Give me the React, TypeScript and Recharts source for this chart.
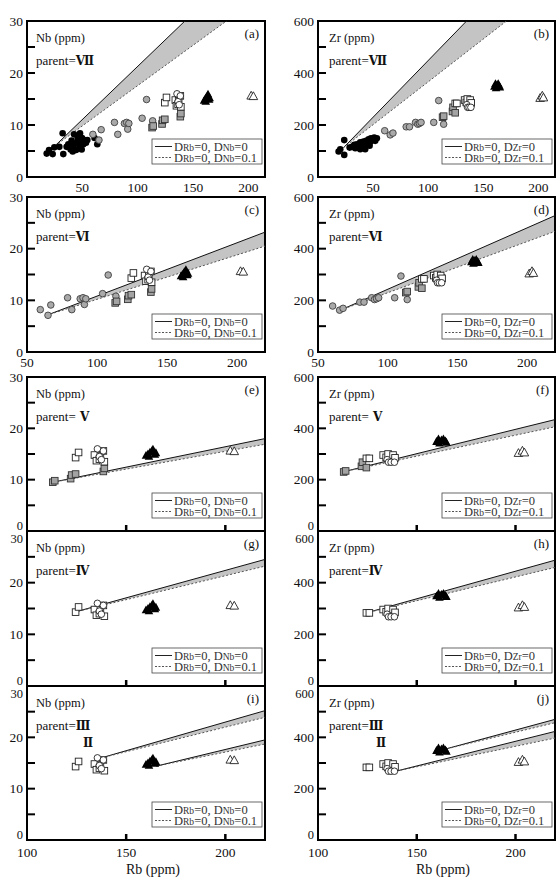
import React from 'react';
import { ComposedChart, Scatter, Line, Area, XAxis, YAxis, ReferenceArea } from 'recharts';

type Pt = [number, number];

// ---------- Nb (ppm) vs Rb (ppm) ----------
const nbBlackCircles: Pt[] = [
  [17.8, 4.5], [19.9, 5.2], [23.2, 4.4], [24.7, 5.7], [29.2, 5.8], [32.2, 8.4], [32.8, 4.4],
  [35.8, 5.8], [37.3, 6.3], [39.4, 5.3], [40.3, 7.0], [41.3, 4.9], [41.9, 6.0], [42.5, 8.2],
  [44.3, 5.2], [44.9, 6.6], [45.8, 7.5], [47.3, 6.0], [47.9, 8.4], [48.5, 6.8], [49.4, 5.3],
  [49.7, 7.5], [50.9, 6.3], [51.8, 7.1], [53.3, 6.6], [54.5, 7.1], [61, 7.5], [63.5, 6.3],
];
const nbGrayCircles: Pt[] = [
  [59.5, 8.2], [65, 7.1], [67, 9.1], [79, 10.5], [82, 8.2], [88, 10.3], [90, 10.5], [91, 9.2],
  [92, 10.3], [104, 11.3], [108, 14.9], [113.5, 10.8],
];
const nbGraySquares: Pt[] = [[113, 9.5], [114, 9.8], [122, 10.2], [122.5, 10.9], [124.5, 11.1], [138.5, 11.6], [139, 12.2]];
const nbOpenSquares: Pt[] = [[124.5, 14.3], [126, 15.3], [134, 14.8], [135, 13.7], [136.5, 14.0], [137, 14.7], [138.5, 15.6], [139, 13.5]];
const nbOpenCircles: Pt[] = [[135.5, 16.0], [136.5, 14.5], [138.5, 15.6], [137.5, 13.9]];
const nbBlackTriangles: Pt[] = [[160, 14.7], [161, 15.0], [161.5, 14.5], [162, 15.3], [163, 15.6], [163.5, 15.9], [164.5, 14.9], [165, 15.2]];
const nbOpenTriangles: Pt[] = [[202.5, 15.6], [204.5, 15.5]];

// ---------- Zr (ppm) vs Rb (ppm) ----------
const zrBlackCircles: Pt[] = [
  [18.7, 98], [20.2, 107], [23.8, 142], [23.8, 85], [28.7, 113], [30.8, 116], [32.9, 124], [33.8, 111],
  [35.3, 126], [36.8, 120], [38.3, 133], [38.3, 107], [39.8, 124], [41.3, 136], [41.9, 120], [42.8, 107],
  [43.7, 139], [45, 129], [45.9, 145], [46.8, 120], [47.4, 135], [48, 149], [49.8, 142], [51, 152],
  [51.9, 139], [53.4, 149],
];
const zrGrayCircles: Pt[] = [
  [60.5, 178], [65.5, 162], [68, 169], [80, 193], [83, 193], [88.5, 210], [90.5, 203], [92, 206],
  [93.5, 210], [105, 210], [109.5, 294], [114, 203],
];
const zrGraySquares: Pt[] = [[113, 230], [114, 234], [122, 252], [122.5, 268], [124.5, 247], [138, 276], [138.5, 286]];
const zrOpenSquares: Pt[] = [[124.5, 283], [126, 283], [133, 296], [134.5, 287], [135.5, 300], [138, 296], [139, 285]];
const zrOpenCircles: Pt[] = [[135, 278], [135.7, 268], [137, 268], [138.7, 268]];
const zrBlackTriangles: Pt[] = [[160, 348], [161, 358], [161.5, 342], [162.5, 354], [163.5, 358], [164.5, 350], [165, 345]];
const zrOpenTriangles: Pt[] = [[201.5, 303], [203.5, 312], [204.5, 305]];

// model lines, per row (parent VII..III):
// [Rb start, value start, Rb end, value end (D=0), value end (D=0.1)]
const nbModels: number[][][] = [
  [[25.3, 6.0, 215, 44.8, 35.4]],
  [[64, 7.1, 220, 23.2, 20.5]],
  [[113, 9.5, 220, 18.0, 16.9]],
  [[124, 14.3, 220, 24.5, 23.2]],
  [[137.5, 16.0, 220, 25.2, 23.9], [165.3, 14.4, 220, 19.5, 18.7]],
];
const zrModels: number[][][] = [
  [[23.2, 113, 215, 950, 745]],
  [[66, 162, 220, 528, 467]],
  [[113, 231, 220, 434, 406]],
  [[124.4, 283, 220, 487, 459]],
  [[163.4, 352, 220, 470, 457], [139.9, 269, 220, 423, 397]],
];

const nbTicks = [0, 5, 10, 15, 20, 25, 30];
const zrTicks = [0, 100, 200, 300, 400, 500, 600];
const rbDomains: number[][] = [[0, 215], [50, 220], [100, 220], [100, 220], [100, 220]];
const rbTicksByRow: number[][] = [[50, 100, 150, 200], [50, 100, 150, 200], [100, 150, 200], [100, 150, 200], [100, 150, 200]];
const rbLabelRows = [true, true, false, false, true];
const parents = ['Ⅶ', 'Ⅵ', ' Ⅴ', 'Ⅳ', 'Ⅲ'];
const letters = [['a', 'b'], ['c', 'd'], ['e', 'f'], ['g', 'h'], ['i', 'j']];
const rowGroups = [[0, 1, 2, 3, 4, 5, 6], [1, 2, 3, 4, 5, 6], [2, 3, 4, 5, 6], [3, 4, 5, 6], [3, 4, 5, 6]];

const nbGroups = [nbBlackCircles, nbGrayCircles, nbGraySquares, nbOpenSquares, nbOpenCircles, nbBlackTriangles, nbOpenTriangles];
const zrGroups = [zrBlackCircles, zrGrayCircles, zrGraySquares, zrOpenSquares, zrOpenCircles, zrBlackTriangles, zrOpenTriangles];

// layout (plot top / bottom per row)
const ROWS: number[][] = [[21, 177], [197, 352], [377, 531], [531, 686], [686, 840]];
const FONT = "'Liberation Serif', 'Times New Roman', Times, serif";
const NUMFONT = "'DejaVu Serif', 'Liberation Serif', serif";

const tri = (cx: number, cy: number) => `${cx},${cy - 4.6} ${cx - 4.3},${cy + 3.2} ${cx + 4.3},${cy + 3.2}`;
const shapes = [
  (p: any) => <circle cx={p.cx} cy={p.cy} r={3.3} fill="#000" />,
  (p: any) => <circle cx={p.cx} cy={p.cy} r={3.3} fill="#a9a9a9" stroke="#404040" strokeWidth={0.9} />,
  (p: any) => <rect x={p.cx - 3.3} y={p.cy - 3.3} width={6.6} height={6.6} fill="#a3a3a3" stroke="#333" strokeWidth={0.9} />,
  (p: any) => <rect x={p.cx - 3.3} y={p.cy - 3.3} width={6.6} height={6.6} fill="#fff" stroke="#222" strokeWidth={0.9} />,
  (p: any) => <circle cx={p.cx} cy={p.cy} r={3.3} fill="#fff" stroke="#222" strokeWidth={0.9} />,
  (p: any) => <polygon points={tri(p.cx, p.cy)} fill="#000" />,
  (p: any) => <polygon points={tri(p.cx, p.cy)} fill="#fff" stroke="#222" strokeWidth={0.9} />,
];

const toPts = (arr: Pt[]) => arr.map(([rb, v]) => ({ rb, v }));

function Panel({ row, col }: { row: number; col: number }) {
  const isNb = col === 0;
  const yMax = isNb ? 30 : 600;
  const yTicks = isNb ? nbTicks : zrTicks;
  const major = isNb ? 10 : 200;
  const [pt, pb] = ROWS[row];
  const yAxisW = isNb ? 27 : 38;
  const mRight = isNb ? 15 : 5;
  const xAxisH = 26;
  const h = 10 + (pb - pt) + xAxisH;
  const dom = rbDomains[row];
  const groups = isNb ? nbGroups : zrGroups;
  const models = (isNb ? nbModels : zrModels)[row];
  const showLabels = rbLabelRows[row];
  const inward = row >= 2;

  const yTick = (p: any) => {
    const v = p.payload.value;
    let dy = 4.5;
    let fs = 13.5;
    if (v === 0 && row >= 2) {
      dy = -1;
      fs = 12.5;
    }
    if (v === yMax && (row === 3 || row === 4)) {
      dy = 12;
      fs = 12.5;
    }
    return (
      <g>
        {v > 0 && v < yMax ? <line x1={p.x} x2={p.x + 8} y1={p.y} y2={p.y} stroke="#000" strokeWidth={2} /> : null}
        {v % major === 0 ? (
          <text x={p.x - 4} y={p.y + dy} textAnchor="end" fontSize={fs} fontFamily={FONT} fill="#111">
            {v}
          </text>
        ) : null}
      </g>
    );
  };
  const xTick = (p: any) => {
    const v = p.payload.value;
    return (
      <g>
        {inward && v > dom[0] && v < dom[1] ? (
          <line x1={p.x} x2={p.x} y1={p.y} y2={p.y - 6} stroke="#000" strokeWidth={2.5} />
        ) : null}
        {showLabels ? (
          <text x={p.x} y={p.y + (row === 4 ? 17 : 15)} textAnchor="middle" fontSize={13.5} fontFamily={FONT} fill="#111">
            {v}
          </text>
        ) : null}
      </g>
    );
  };

  return (
    <div style={{ position: 'absolute', left: col === 0 ? 0 : 280, top: pt - 10 }}>
      <ComposedChart width={280} height={h} margin={{ top: 10, right: mRight, bottom: 0, left: 0 }} style={{ overflow: 'visible' }}>
        <XAxis
          type="number"
          dataKey="rb"
          domain={dom}
          ticks={rbTicksByRow[row]}
          interval={0}
          allowDataOverflow
          tick={xTick}
          tickLine={false}
          axisLine={false}
          tickSize={0}
          tickMargin={0}
          height={xAxisH}
        />
        <YAxis
          type="number"
          dataKey="v"
          domain={[0, yMax]}
          ticks={yTicks}
          interval={0}
          allowDataOverflow
          tick={yTick}
          tickLine={false}
          axisLine={false}
          tickSize={0}
          tickMargin={0}
          width={yAxisW}
        />
        {models.map((m, i) => (
          <Area
            key={'band' + i}
            data={[{ rb: m[0], band: [m[1], m[1]] }, { rb: m[2], band: [m[4], m[3]] }]}
            dataKey="band"
            type="linear"
            stroke="none"
            fill="#c4c4c4"
            fillOpacity={1}
            isAnimationActive={false}
          />
        ))}
        {models.map((m, i) => (
          <Line
            key={'d0' + i}
            data={[{ rb: m[0], v: m[1] }, { rb: m[2], v: m[3] }]}
            dataKey="v"
            type="linear"
            stroke="#111"
            strokeWidth={1}
            dot={false}
            isAnimationActive={false}
          />
        ))}
        {models.map((m, i) => (
          <Line
            key={'d1' + i}
            data={[{ rb: m[0], v: m[1] }, { rb: m[2], v: m[4] }]}
            dataKey="v"
            type="linear"
            stroke="#555"
            strokeWidth={1}
            strokeDasharray="2 2"
            dot={false}
            isAnimationActive={false}
          />
        ))}
        {rowGroups[row].map((g) => (
          <Scatter key={'s' + g} data={toPts(groups[g])} shape={shapes[g]} isAnimationActive={false} />
        ))}
        <ReferenceArea x1={dom[0]} x2={dom[1]} y1={0} y2={yMax} fill="none" fillOpacity={0} stroke="#000" strokeWidth={2} ifOverflow="visible" />
      </ComposedChart>
    </div>
  );
}

function LegendBox({ pr, pb, el }: { pr: number; pb: number; el: string }) {
  const bx = pr - 113;
  const by = pb - 38;
  return (
    <g>
      <rect x={bx} y={by} width={110} height={25} fill="#fff" stroke="#444" strokeWidth={0.8} />
      <line x1={bx + 3} x2={bx + 20} y1={by + 7.5} y2={by + 7.5} stroke="#222" strokeWidth={1} />
      <text x={bx + 22} y={by + 11.5} fontSize={12.5} fontFamily={FONT} fill="#333">
        D<tspan fontSize={9.5}>Rb</tspan>=0, D<tspan fontSize={9.5}>{el}</tspan>=0
      </text>
      <line x1={bx + 3} x2={bx + 20} y1={by + 18.5} y2={by + 18.5} stroke="#555" strokeWidth={1} strokeDasharray="2 1.5" />
      <text x={bx + 22} y={by + 22.5} fontSize={12.5} fontFamily={FONT} fill="#333">
        D<tspan fontSize={9.5}>Rb</tspan>=0, D<tspan fontSize={9.5}>{el}</tspan>=0.1
      </text>
    </g>
  );
}

function Annotations() {
  return (
    <svg width={560} height={885} style={{ position: 'absolute', left: 0, top: 0, pointerEvents: 'none' }}>
      {ROWS.map(([pt, pb], row) =>
        [0, 1].map((col) => {
          const pl = col === 0 ? 27 : 318;
          const pr = col === 0 ? 265 : 555;
          const ts = pl + (col === 0 ? 9 : 11);
          const el = col === 0 ? 'Nb' : 'Zr';
          return (
            <g key={row + '-' + col}>
              <text x={ts} y={pt + 21} fontSize={12.5} fontFamily={FONT} fill="#111">
                {el} (ppm)
              </text>
              <text x={ts} y={pt + 44} fontSize={13} fontFamily={FONT} fill="#111">
                parent=
                <tspan fontFamily={NUMFONT} fontWeight="bold" fontSize={12}>
                  {parents[row]}
                </tspan>
              </text>
              {row === 4 ? (
                <text x={ts + 52} y={pt + 61} textAnchor="middle" fontFamily={NUMFONT} fontWeight="bold" fontSize={12} fill="#111">
                  Ⅱ
                </text>
              ) : null}
              <text x={pr - 6} y={pt + 17} textAnchor="end" fontSize={13} fontFamily={FONT} fill="#111">
                ({letters[row][col]})
              </text>
              <LegendBox pr={pr} pb={pb} el={el} />
            </g>
          );
        })
      )}
      <text x={153} y={874} textAnchor="middle" fontSize={14} fontFamily={FONT} fill="#111">
        Rb (ppm)
      </text>
      <text x={443} y={874} textAnchor="middle" fontSize={14} fontFamily={FONT} fill="#111">
        Rb (ppm)
      </text>
    </svg>
  );
}

export default function App() {
  return (
    <div style={{ position: 'absolute', left: 0, top: 0, width: 560, height: 885, background: '#fff', overflow: 'hidden' }}>
      {ROWS.map((_, row) => [0, 1].map((col) => <Panel key={row + '_' + col} row={row} col={col} />))}
      <Annotations />
    </div>
  );
}
